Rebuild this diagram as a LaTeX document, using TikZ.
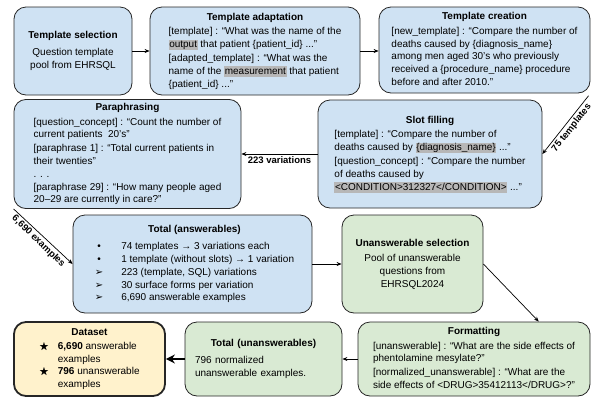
\documentclass[tikz,border=0pt]{standalone}
\usepackage{fontspec}
\setmainfont{Liberation Sans}
\newfontfamily\symfont{DejaVu Sans}
\usepackage{amssymb}
\usepackage{xcolor}
\usepackage{tikz}
\usetikzlibrary{arrows.meta}

\definecolor{boxblue}{HTML}{CFE2F3}
\definecolor{boxgreen}{HTML}{D9EAD3}
\definecolor{boxyellow}{HTML}{FFF2CC}
\definecolor{hlgray}{HTML}{B7B7B7}

\newcommand{\hl}[1]{{\setlength{\fboxsep}{0.6pt}\colorbox{hlgray}{\vphantom{Qy\}}#1}}}
% title centred over left-aligned lines
\newcommand{\boxtext}[2]{\begin{tabular}{@{}l@{}}\multicolumn{1}{@{}c@{}}{\bfseries #1}\\[2pt]#2\end{tabular}}

\begin{document}
\begin{tikzpicture}[x=1pt, y=-1pt,
    stepbox/.style={draw=black!85, line width=0.8pt, rounded corners=12pt,
        inner xsep=4pt, inner ysep=2pt, align=center,
        font=\fontsize{10}{12.7}\selectfont},
    flow/.style={-{Stealth[length=5pt,width=4pt]}, line width=0.7pt},
    flowlabel/.style={font=\fontsize{9.5}{11}\selectfont\bfseries, inner sep=2pt}]
    \useasboundingbox (0,0) rectangle (592,397);

    % top row
    \node[stepbox, fill=boxblue, minimum width=118pt, minimum height=88pt] at (73, 51) (sel)
        {\textbf{Template selection}\\[4pt] Question template\\ pool from EHRSQL};
    \node[stepbox, fill=boxblue, minimum width=210pt, minimum height=88pt] at (255, 51) (adapt)
        {\boxtext{Template adaptation}{%
        [template] : “What was the name of the\\
        \hl{output} that patient \{patient\_id\} ...”\\[1.5pt]
        {}[adapted\_template] : “What was the\\
        name of the \hl{measurement} that patient\\
        \{patient\_id\} ...”}};
    \node[stepbox, fill=boxblue, minimum width=211pt, minimum height=86pt] at (484.5, 50) (create)
        {\boxtext{Template creation}{%
        [new\_template] : “Compare the number of\\
        deaths caused by \{diagnosis\_name\}\\
        among men aged 30's who previously\\
        received a \{procedure\_name\} procedure\\
        before and after 2010.”}};

    % second row
    \node[stepbox, fill=boxblue, minimum width=224pt, minimum height=108pt] at (430, 154) (slot)
        {\boxtext{Slot filling}{%
        [template] : “Compare the number of\\
        deaths caused by \hl{\{diagnosis\_name\}} ...”\\[1.5pt]
        {}[question\_concept] : “Compare the number\\
        of deaths caused by\\
        \hl{<CONDITION>312327</CONDITION>} ...”}};
    \node[stepbox, fill=boxblue, minimum width=227pt, minimum height=108pt] at (127.5, 154) (para)
        {\boxtext{Paraphrasing}{%
        [question\_concept] : “Count the number of\\
        current patients\ \ 20's”\\[1.5pt]
        {}[paraphrase 1] : “Total current patients in\\
        their twenties”\\
        . . .\\
        {}[paraphrase 29] : “How many people aged\\
        20–29 are currently in care?”}};

    % third row
    \node[stepbox, fill=boxblue, minimum width=239pt, minimum height=98pt] at (192.5, 264) (totA)
        {\hspace{4pt}\begin{tabular}{@{}c@{\hspace{18pt}}l@{}}
        \multicolumn{2}{c}{\bfseries Total (answerables)}\\[5pt]
        \textbullet & 74 templates → 3 variations each\\
        \textbullet & 1 template (without slots) → 1 variation\\
        {\symfont ➢} & 223 (template, SQL) variations\\
        {\symfont ➢} & 30 surface forms per variation\\
        {\symfont ➢} & 6,690 answerable examples
        \end{tabular}};
    \node[stepbox, fill=boxgreen, minimum width=141pt, minimum height=98pt] at (412.5, 264) (unsel)
        {\textbf{Unanswerable selection}\\[3pt] Pool of unanswerable\\ questions from\\ EHRSQL2024};

    % bottom row
    \node[stepbox, fill=boxgreen, minimum width=232pt, minimum height=74pt] at (474, 359) (fmt)
        {\boxtext{Formatting}{%
        [unanswerable] : “What are the side effects of\\
        phentolamine mesylate?”\\[1.5pt]
        {}[normalized\_unanswerable] : “What are the\\
        side effects of <DRUG>35412113</DRUG>?”}};
    \node[stepbox, fill=boxgreen, align=left, inner xsep=10pt, minimum width=157pt, minimum height=74pt, text width=137pt] at (263.5, 359) (totU)
        {{\centering\bfseries Total (unanswerables)\par}\vspace{4pt}
        796 normalized\\
        unanswerable examples.};
    \node[stepbox, fill=boxyellow, line width=1.8pt, minimum width=151pt, minimum height=74pt] at (89.5, 359) (data)
        {\begin{tabular}{@{}c@{\hspace{9pt}}l@{}}
        \multicolumn{2}{c}{\bfseries Dataset}\\[1pt]
        $\bigstar$ & \textbf{6,690} answerable\\
         & examples\\
        $\bigstar$ & \textbf{796} unanswerable\\
         & examples
        \end{tabular}};

    \draw[flow] (sel) -- (adapt);
    \draw[flow] (adapt.east) -- (adapt.east -| create.west);
    \draw[flow, shorten <=3pt] (create.south east) -- node[flowlabel, midway, rotate=52, anchor=north] {75 templates} (slot.east);
    \draw[flow] (slot) -- node[flowlabel, midway, below] {223 variations} (para);
    \draw[flow] (para.south west) -- node[flowlabel, midway, rotate=-44, anchor=north] {6,690 examples} (totA.west);
    \draw[flow] (totA) -- (unsel);
    \draw[flow] (unsel.east) -- (fmt.30);
    \draw[flow] (fmt) -- (totU);
    \draw[-{Stealth[length=9pt,width=9pt]}, line width=1.8pt] (totU) -- (data);
\end{tikzpicture}
\end{document}
